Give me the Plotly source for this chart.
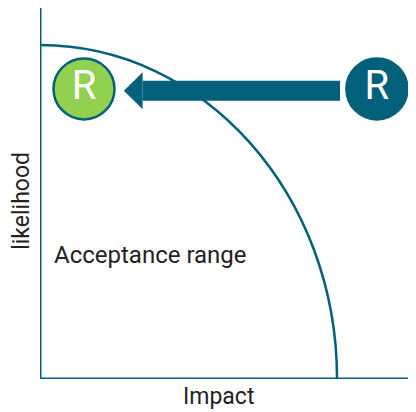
import plotly.graph_objects as go

# ---- data ----
risk_labels = ["R", "R"]
risk_impact = [8.96, 1.17]        # original risk, mitigated risk
risk_likelihood = [7.82, 7.82]
risk_colors = ["#03607A", "#92D050"]
boundary_impact = 7.9             # acceptance boundary: impact intercept
boundary_likelihood = 9.0         # acceptance boundary: likelihood intercept
region_label = "Acceptance range"
x_title = "Impact"
y_title = "likelihood"

TEAL = "#03607A"
TXT = "#222222"
FONT = "Roboto"
X_RANGE = [0, 10]
Y_RANGE = [0, 10]

fig = go.Figure()

# acceptance boundary: quarter ellipse via cubic bezier
k = 0.5523
a, b = boundary_impact, boundary_likelihood
fig.add_shape(type="path",
              path=f"M 0,{b} C {k*a},{b} {a},{k*b} {a},0",
              xref="x", yref="y", line=dict(color=TEAL, width=2.5))

# arrow from original to mitigated risk
x0, x1 = risk_impact[0], risk_impact[1]
y_arr = risk_likelihood[0] - 0.05
shaft_start = x0 - 0.98
head_tip = x1 + 1.06
head_base = head_tip + 0.5
fig.add_shape(type="rect", x0=head_base, x1=shaft_start,
              y0=y_arr - 0.27, y1=y_arr + 0.27,
              xref="x", yref="y", fillcolor=TEAL, line=dict(width=0))
fig.add_shape(type="path",
              path=f"M {head_tip},{y_arr} L {head_base},{y_arr+0.5} L {head_base},{y_arr-0.5} Z",
              xref="x", yref="y", fillcolor=TEAL, line=dict(width=0))

# axis lines
fig.add_shape(type="line", x0=0, x1=0, y0=0, y1=1, xref="x", yref="paper",
              line=dict(color=TEAL, width=3))
fig.add_shape(type="line", x0=0, x1=1, y0=0, y1=0, xref="paper", yref="y",
              line=dict(color=TEAL, width=3))

# risk circles
fig.add_trace(go.Scatter(
    x=risk_impact, y=risk_likelihood, mode="markers+text",
    text=risk_labels, textposition="middle center",
    textfont=dict(color="white", size=40, family=FONT),
    marker=dict(size=61, color=risk_colors, line=dict(color=TEAL, width=2.5)),
    hoverinfo="skip", showlegend=False, cliponaxis=False))

fig.add_annotation(x=0.33, y=3.33, xref="x", yref="y", text=region_label,
                   showarrow=False, xanchor="left", yanchor="middle",
                   font=dict(size=24, color=TXT, family=FONT))
fig.add_annotation(x=0.475, y=0, xref="paper", yref="paper", text=x_title,
                   showarrow=False, xanchor="center", yanchor="top", yshift=-2,
                   font=dict(size=23, color=TXT, family=FONT))
fig.add_annotation(x=-0.048, y=0.48, xref="paper", yref="paper", text=y_title,
                   showarrow=False, xanchor="center", yanchor="middle",
                   borderpad=0, textangle=-90,
                   font=dict(size=23, color=TXT, family=FONT))

fig.update_xaxes(range=X_RANGE, visible=False, automargin=False)
fig.update_yaxes(range=Y_RANGE, visible=False, automargin=False)

# the page adds an 8px body margin, so the figure is 408x404
fig.update_layout(width=408, height=404,
                  margin=dict(l=32, r=0, t=0, b=33, autoexpand=False),
                  plot_bgcolor="white", paper_bgcolor="white")

fig.write_html("out.html")
